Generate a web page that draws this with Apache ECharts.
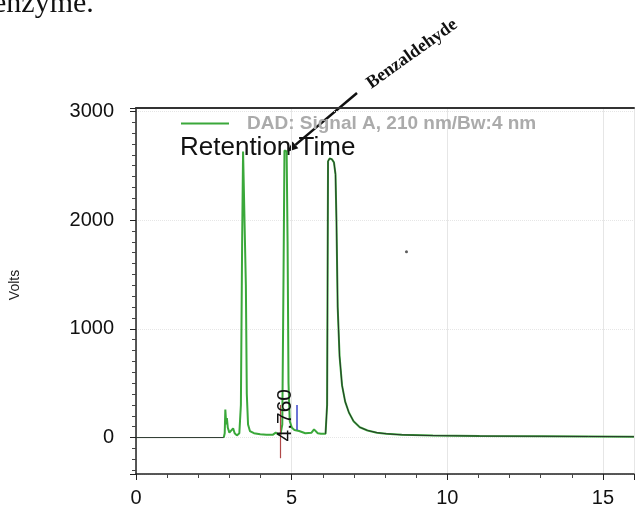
<!DOCTYPE html>
<html>
<head>
<meta charset="utf-8">
<script src="https://cdn.jsdelivr.net/npm/echarts@6/dist/echarts.min.js"></script>
<style>
  html, body { margin: 0; padding: 0; background: #fff; }
  #chart { width: 638px; height: 511px; }
</style>
</head>
<body>
<div id="chart"></div>
<script>
// retention time (min) and detector response
const time = [0, 2.82, 2.85, 2.87, 2.9, 2.92, 2.95, 3.0, 3.06, 3.12, 3.17, 3.24, 3.32, 3.37, 3.41, 3.44, 3.47, 3.5, 3.53, 3.56, 3.6, 3.66, 3.79, 3.99, 4.19, 4.39, 4.49, 4.56, 4.64, 4.7, 4.74, 4.77, 4.8, 4.84, 4.87, 4.9, 4.94, 5.01, 5.09, 5.24, 5.44, 5.64, 5.72, 5.77, 5.84, 5.94, 6.09, 6.14, 6.17, 6.22, 6.29, 6.36, 6.41, 6.44, 6.48, 6.54, 6.62, 6.72, 6.84, 6.99, 7.19, 7.44, 7.74, 8.04, 8.54, 9.54, 11.04, 13.04, 14.54, 16];
const signal = [0, 0, 40, 257, 120, 180, 90, 45, 60, 85, 40, 20, 40, 300, 1800, 2630, 2640, 2620, 1400, 400, 120, 60, 40, 30, 25, 25, 45, 30, 25, 120, 1500, 2640, 2655, 2630, 1800, 500, 150, 90, 70, 60, 40, 45, 75, 60, 40, 35, 35, 300, 2540, 2565, 2560, 2530, 2420, 2000, 1200, 750, 480, 330, 230, 150, 95, 65, 45, 35, 25, 18, 14, 12, 10, 8];
const xTicks = [0, 5, 10, 15];
const yTicks = [0, 1000, 2000, 3000];
const peakRT = 4.760;
const specks = [[8.69, 1708]];

const legendName = "DAD: Signal A, 210 nm/Bw:4 nm";

const green = [];
const dark = [];
time.forEach((t, i) => {
  if (t >= 2.81) green.push([t, signal[i]]);
  if (t <= 2.84) dark.push([t, signal[i]]);
});
dark.push([2.93, "-"]);
time.forEach((t, i) => { if (t >= 5.98) dark.push([t, signal[i]]); });

const chart = echarts.init(document.getElementById("chart"));

// arrow for the Benzaldehyde label
const tail = [357, 93], tip = [287, 152];
const dx = tip[0] - tail[0], dy = tip[1] - tail[1];
const len = Math.sqrt(dx * dx + dy * dy);
const ux = dx / len, uy = dy / len;
const bx = tip[0] - 11 * ux, by = tip[1] - 11 * uy;
const head = [tip, [bx + 4.5 * uy, by - 4.5 * ux], [bx - 4.5 * uy, by + 4.5 * ux]];

const axisFont = { fontFamily: "Liberation Sans, Arial", fontSize: 20, color: "#111" };
const red = { color: "#b04848", width: 1.2, type: "solid" };
const blue = { color: "#3a44c8", width: 1.5, type: "solid" };

const option = {
  animation: false,
  grid: { left: 130, right: 4, top: 108, bottom: 37 },
  legend: {
    data: [legendName],
    left: 181, top: 114, padding: 0,
    icon: "rect", itemWidth: 48, itemHeight: 2,
    textStyle: { color: "#ababab", fontSize: 19, fontWeight: "bold", fontFamily: "Liberation Sans, Arial", padding: [0, 0, 0, 13] }
  },
  xAxis: [{
    type: "value", min: 0, max: 16, interval: 5,
    axisLine: { show: true, onZero: false, lineStyle: { color: "#222", width: 1.5 } },
    axisTick: { show: true, length: 6, lineStyle: { color: "#222" } },
    minorTick: { show: true, splitNumber: 5, length: 4, lineStyle: { color: "#444" } },
    axisLabel: { ...axisFont, margin: 14, showMaxLabel: false,
      formatter: v => xTicks.includes(v) ? String(v) : "" },
    splitLine: { show: true, lineStyle: { color: "#e6e6e6" } }
  }, {
    type: "value", position: "top", min: 0, max: 16,
    axisLine: { show: true, onZero: false, lineStyle: { color: "#333", width: 2 } },
    axisTick: { show: false }, axisLabel: { show: false }, splitLine: { show: false }
  }],
  yAxis: {
    type: "value", min: -335, max: 3030, splitNumber: 3,
    name: "Volts", nameLocation: "middle", nameGap: 114, nameRotate: 90,
    nameTextStyle: { fontFamily: "Liberation Sans, Arial", fontSize: 14, color: "#222", padding: [0, 0, 0, 12] },
    axisLine: { show: true, onZero: false, lineStyle: { color: "#222", width: 1.5 } },
    axisTick: { show: true, length: 6, lineStyle: { color: "#222" } },
    minorTick: { show: true, splitNumber: 10, length: 4, lineStyle: { color: "#444" } },
    axisLabel: { ...axisFont, margin: 22, showMinLabel: false, showMaxLabel: false,
      formatter: v => yTicks.includes(v) ? String(v) : "" },
    splitLine: { show: true, lineStyle: { color: "#e6e6e6", type: "dotted" } }
  },
  series: [{
    name: legendName, type: "line", data: green, showSymbol: false,
    lineStyle: { color: "#3aa83a", width: 2 }, itemStyle: { color: "#3aa83a" },
    markPoint: {
      symbol: "circle", symbolSize: 0, silent: true,
      data: [{ coord: [4.8, 205] }],
      label: { show: true, position: "inside", formatter: peakRT.toFixed(3), rotate: 90,
        fontSize: 21, color: "#111", fontFamily: "Liberation Sans, Arial" }
    },
    markLine: {
      symbol: ["none", "none"], silent: true, label: { show: false },
      data: [
        [{ coord: [4.64, 300], lineStyle: red }, { coord: [4.64, -190], lineStyle: red }],
        [{ coord: [5.16, 300], lineStyle: blue }, { coord: [5.16, 70], lineStyle: blue }]
      ]
    }
  }, {
    name: "trace", type: "line", data: dark, showSymbol: false, connectNulls: false,
    lineStyle: { color: "#27352a", width: 1 }
  }, {
    name: "speck", type: "scatter", data: specks, symbolSize: 3,
    itemStyle: { color: "#333" }, silent: true
  }],
  graphic: [
    { type: "text", x: -7, y: -11, style: { text: "enzyme.", font: "30px 'Liberation Serif', serif", fill: "#111" } },
    { type: "text", left: 180, top: 135, style: { text: "Retention Time", font: "26px 'Liberation Sans', Arial", fill: "#111" } },
    { type: "text", x: 412, y: 54, rotation: 0.62,
      style: { text: "Benzaldehyde", font: "bold 18px 'Liberation Serif', serif", fill: "#111", align: "center", verticalAlign: "middle" } },
    { type: "polyline", shape: { points: [tail, [bx, by]] }, style: { stroke: "#111", lineWidth: 2.5 } },
    { type: "polygon", shape: { points: head }, style: { fill: "#111" } }
  ]
};

chart.setOption(option);
window.addEventListener("resize", () => chart.resize());
</script>
</body>
</html>
